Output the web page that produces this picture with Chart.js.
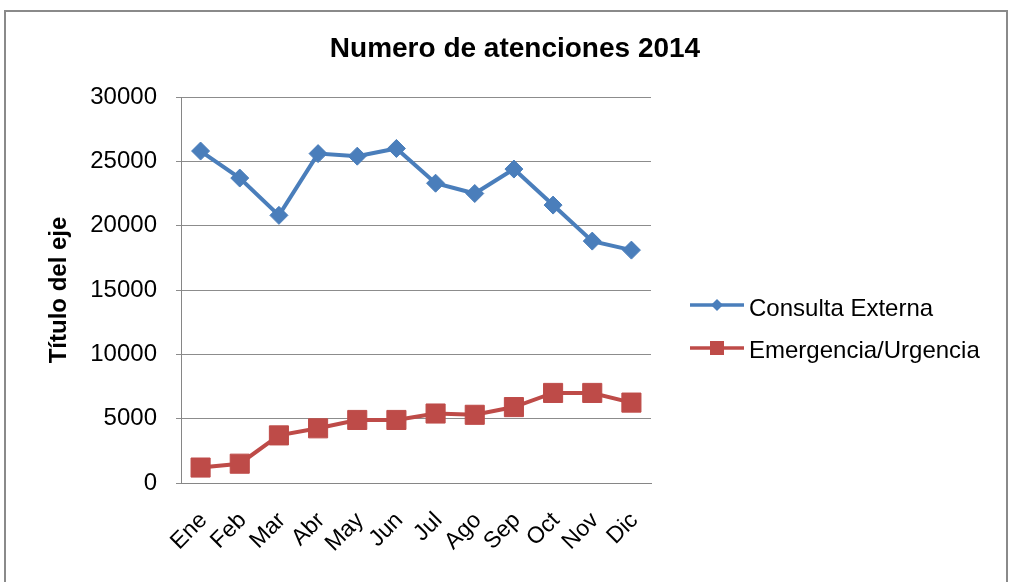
<!DOCTYPE html>
<html>
<head>
<meta charset="utf-8">
<script src="https://cdn.jsdelivr.net/npm/chart.js@4/dist/chart.umd.min.js"></script>
<style>
  html, body { margin: 0; padding: 0; background: #ffffff; }
  #wrap { width: 1013px; height: 582px; position: relative; }
</style>
</head>
<body>
<div id="wrap"><canvas id="c" width="1013" height="582"></canvas></div>
<script>
const chartTitle = 'Numero de atenciones 2014';
const axisTitle = 'Título del eje';
const months = ['Ene', 'Feb', 'Mar', 'Abr', 'May', 'Jun', 'Jul', 'Ago', 'Sep', 'Oct', 'Nov', 'Dic'];
const seriesNames = ['Consulta Externa', 'Emergencia/Urgencia'];
const consultaExterna = [25800, 23700, 20800, 25600, 25400, 26000, 23300, 22500, 24400, 21600, 18800, 18100];
const emergenciaUrgencia = [1200, 1500, 3700, 4250, 4900, 4900, 5400, 5300, 5900, 7000, 7000, 6250];
const yTicks = [0, 5000, 10000, 15000, 20000, 25000, 30000];

const BLUE = '#4a7ebb';
const RED = '#be4b48';
const FONT = 'Liberation Sans, Arial, sans-serif';

const framePlugin = {
  id: 'frame',
  beforeDraw(chart) {
    const ctx = chart.ctx;
    ctx.save();
    ctx.fillStyle = '#ffffff';
    ctx.fillRect(0, 0, chart.width, chart.height);
    ctx.strokeStyle = '#8a8a8a';
    ctx.lineWidth = 2;
    ctx.beginPath();
    ctx.moveTo(5, 600);
    ctx.lineTo(5, 11);
    ctx.lineTo(1007, 11);
    ctx.lineTo(1007, 600);
    ctx.stroke();
    ctx.restore();
  },
  afterDraw(chart) {
    const ctx = chart.ctx;
    ctx.save();
    // title
    ctx.fillStyle = '#000000';
    ctx.font = 'bold 28px ' + FONT;
    ctx.textAlign = 'center';
    ctx.textBaseline = 'alphabetic';
    ctx.fillText(chartTitle, 515, 57);
    // legend
    const entries = [
      { name: seriesNames[0], color: BLUE, style: 'diamond', y: 305, base: 316 },
      { name: seriesNames[1], color: RED, style: 'square', y: 348, base: 358 }
    ];
    entries.forEach(e => {
      ctx.strokeStyle = e.color;
      ctx.lineWidth = 3.5;
      ctx.beginPath();
      ctx.moveTo(690, e.y);
      ctx.lineTo(744, e.y);
      ctx.stroke();
      ctx.fillStyle = e.color;
      ctx.beginPath();
      if (e.style === 'diamond') {
        const r = 6;
        ctx.moveTo(717, e.y - r);
        ctx.lineTo(717 + r, e.y);
        ctx.lineTo(717, e.y + r);
        ctx.lineTo(717 - r, e.y);
        ctx.closePath();
      } else {
        ctx.rect(717 - 7, e.y - 7, 14, 14);
      }
      ctx.fill();
      ctx.fillStyle = '#000000';
      ctx.font = '24px ' + FONT;
      ctx.textAlign = 'left';
      ctx.fillText(e.name, 749, e.base);
    });
    ctx.restore();
  }
};

new Chart(document.getElementById('c'), {
  type: 'line',
  data: {
    labels: months,
    datasets: [
      {
        label: seriesNames[0],
        data: consultaExterna,
        borderColor: BLUE,
        backgroundColor: BLUE,
        borderWidth: 4,
        pointStyle: 'rectRot',
        pointRadius: 9,
        pointBorderWidth: 1,
        pointBackgroundColor: BLUE,
        pointBorderColor: BLUE,
        tension: 0
      },
      {
        label: seriesNames[1],
        data: emergenciaUrgencia,
        borderColor: RED,
        backgroundColor: RED,
        borderWidth: 4,
        pointStyle: 'rect',
        pointRadius: 13.5,
        pointBorderWidth: 1,
        pointBackgroundColor: RED,
        pointBorderColor: RED,
        tension: 0
      }
    ]
  },
  options: {
    responsive: false,
    devicePixelRatio: 1,
    animation: false,
    layout: { padding: { top: 97, right: 362, bottom: 0, left: 0 } },
    plugins: {
      legend: { display: false },
      title: { display: false },
      tooltip: { enabled: false }
    },
    scales: {
      x: {
        type: 'category',
        offset: true,
        grid: { display: false, drawTicks: false },
        border: { display: true, color: '#868686', width: 1 },
        ticks: {
          color: '#000000',
          font: { family: FONT, size: 23 },
          minRotation: 45,
          maxRotation: 45,
          autoSkip: false,
          padding: 24,
          labelOffset: 3
        },
        afterFit(scale) { scale.height = 99; }
      },
      y: {
        min: 0,
        max: 30000,
        afterBuildTicks(scale) { scale.ticks = yTicks.map(v => ({ value: v })); },
        grid: { color: '#8c8c8c', lineWidth: 1, tickLength: 5, drawTicks: true },
        border: { display: true, color: '#868686', width: 1 },
        ticks: {
          color: '#000000',
          font: { family: FONT, size: 24 },
          padding: 19,
          callback: (v) => String(v)
        },
        title: {
          display: true,
          text: axisTitle,
          color: '#000000',
          font: { family: FONT, size: 24, weight: 'bold' },
          padding: { top: 44.5, bottom: 0 }
        },
        afterFit(scale) { scale.width = 181; }
      }
    }
  },
  plugins: [framePlugin]
});
</script>
</body>
</html>
